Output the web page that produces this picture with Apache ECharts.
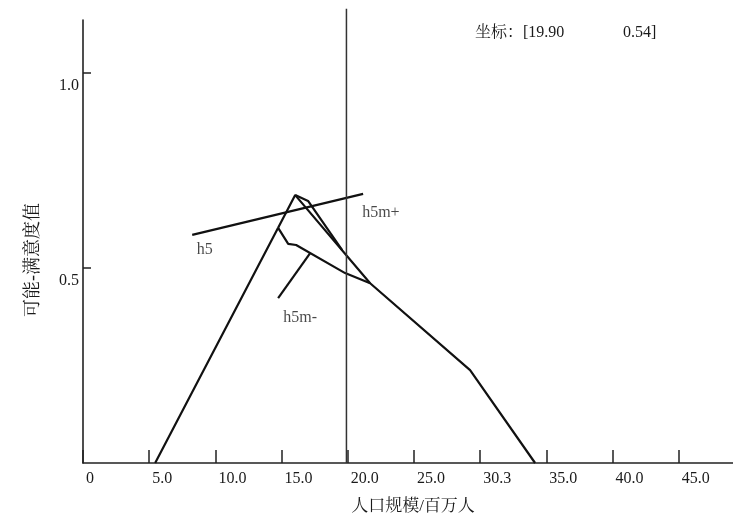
<!DOCTYPE html>
<html><head><meta charset="utf-8">
<script src="https://cdn.jsdelivr.net/npm/echarts@6/dist/echarts.min.js"></script>
<style>html,body{margin:0;padding:0;background:#fff}#c{width:733px;height:520px}</style>
</head><body><div id="c"></div>
<script>
const xTickValues = [0, 5, 10, 15, 20, 25, 30, 35, 40, 45];
const xTickLabels = ['0', '5.0', '10.0', '15.0', '20.0', '25.0', '30.3', '35.0', '40.0', '45.0'];
const yTickValues = [0.5, 1.0];
const yTickLabels = ['0.5', '1.0'];
const h5mMinus = [[5.45, 0], [14.74, 0.603], [15.5, 0.562], [16.1, 0.559], [19.8, 0.487], [21.69, 0.461], [29.24, 0.238], [34.15, 0]];
const h5Peak = [[14.74, 0.603], [16.03, 0.687], [21.69, 0.461]];
const h5mPlus = [[16.03, 0.687], [17.0, 0.672], [19.58, 0.546]];
const h5 = [[8.25, 0.585], [21.16, 0.69]];
const h5mMinusLeader = [[14.74, 0.423], [17.16, 0.538]];
const markerLine = [[19.9, 0], [19.9, 1.165]];
const curveLabels = [[9.2, 0.546, 'h5'], [22.5, 0.641, 'h5m+'], [16.4, 0.372, 'h5m-']];
const coordText = ['坐标：[19.90', '0.54]'];
const xName = '人口规模/百万人';
const yName = '可能-满意度值';

const serif = '"Liberation Serif", "Noto Serif CJK SC", "Noto Sans CJK SC", serif';
const ink = '#111';
function lineSeries(data, w) {
  return { type: 'line', data: data, symbol: 'none', silent: true, clip: false,
    lineStyle: { color: ink, width: w || 2.2 }, z: 3 };
}
const chart = echarts.init(document.getElementById('c'), null, { renderer: 'canvas' });
chart.setOption({
  animation: false,
  backgroundColor: '#fff',
  grid: { left: 83, right: 0, top: 20, bottom: 57, containLabel: false },
  xAxis: {
    type: 'value', min: 0, max: 49.1,
    name: xName, nameLocation: 'middle', nameGap: 35,
    nameTextStyle: { fontFamily: serif, fontSize: 17, color: '#1a1a1a', padding: [0, 0, 0, 10] },
    axisLine: { show: true, lineStyle: { color: '#222', width: 1.6 } },
    axisTick: { show: true, inside: true, length: 13, customValues: xTickValues, lineStyle: { color: '#222', width: 1.5 } },
    axisLabel: { show: true, customValues: xTickValues, align: 'left', margin: 8, padding: [0, 0, 0, 3],
      fontFamily: serif, fontSize: 16, color: '#1a1a1a',
      formatter: function (v) { const i = xTickValues.indexOf(v); return i >= 0 ? xTickLabels[i] : ''; } },
    splitLine: { show: false }
  },
  yAxis: {
    type: 'value', min: 0, max: 1.136,
    axisLine: { show: true, lineStyle: { color: '#222', width: 1.6 } },
    axisTick: { show: true, inside: true, length: 8, customValues: yTickValues, lineStyle: { color: '#222', width: 1.5 } },
    axisLabel: { show: true, customValues: yTickValues, margin: 4, verticalAlign: 'top', padding: [5, 0, 0, 0],
      fontFamily: serif, fontSize: 16, color: '#1a1a1a',
      formatter: function (v) { const i = yTickValues.indexOf(v); return i >= 0 ? yTickLabels[i] : ''; } },
    splitLine: { show: false }
  },
  graphic: [
    { type: 'text', x: 33, y: 260, rotation: Math.PI / 2,
      style: { text: yName, fontFamily: serif, fontSize: 18, fill: '#1a1a1a', align: 'center', verticalAlign: 'middle' } },
    { type: 'text', x: 475, y: 33,
      style: { text: coordText[0], fontFamily: serif, fontSize: 16, fill: '#1a1a1a', align: 'left', verticalAlign: 'middle' } },
    { type: 'text', x: 623, y: 33,
      style: { text: coordText[1], fontFamily: serif, fontSize: 16, fill: '#1a1a1a', align: 'left', verticalAlign: 'middle' } }
  ],
  series: [
    lineSeries(h5mMinus),
    lineSeries(h5Peak),
    lineSeries(h5mPlus),
    lineSeries(h5),
    lineSeries(h5mMinusLeader),
    Object.assign(lineSeries(markerLine, 1.5), { lineStyle: { color: '#333', width: 1.5 } }),
    { type: 'scatter', data: curveLabels.map(function (d) { return { value: [d[0], d[1]], name: d[2] }; }),
      symbolSize: 1, itemStyle: { color: 'rgba(0,0,0,0)' }, silent: true,
      label: { show: true, position: 'inside', formatter: '{b}', fontFamily: serif, fontSize: 16, color: '#1a1a1a' } }
  ]
});
</script></body></html>
